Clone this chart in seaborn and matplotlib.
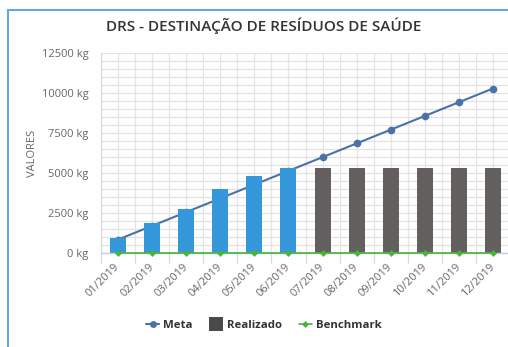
import numpy as np
import pandas as pd
import matplotlib
matplotlib.use("Agg")
import matplotlib.pyplot as plt
from matplotlib.lines import Line2D
from matplotlib.ticker import MultipleLocator, FixedLocator
import seaborn as sns

months = ["01/2019", "02/2019", "03/2019", "04/2019", "05/2019", "06/2019",
          "07/2019", "08/2019", "09/2019", "10/2019", "11/2019", "12/2019"]
meta = [858, 1717, 2575, 3433, 4292, 5150, 6008, 6867, 7725, 8583, 9442, 10300]
realizado = [980, 1910, 2750, 4000, 4830, 5340, 5350, 5350, 5350, 5350, 5350, 5350]
benchmark = [0] * 12
y_ticks = [0, 2500, 5000, 7500, 10000, 12500]

sns.set_theme(style="white")
plt.rcParams["font.family"] = ["Open Sans", "DejaVu Sans"]

BLUE = "#3498db"
GRAY = "#646060"
LINE = "#4a72a8"
GREEN = "#4cb33a"
TEXT = "#666666"

df = pd.DataFrame({"mes": months, "meta": meta, "realizado": realizado,
                   "benchmark": benchmark})
df["pos"] = np.arange(len(df))
df["grupo"] = ["atual" if i < 6 else "futuro" for i in range(len(df))]

fig = plt.figure(figsize=(5.08, 3.47), dpi=100)
ax = fig.add_axes([101 / 508, 1 - 253.3 / 347, 409 / 508, 200 / 347])

sns.lineplot(data=df, x="pos", y="meta", ax=ax, color=LINE, lw=1.5,
             marker="o", markersize=5.5, markeredgewidth=0, zorder=1)
sns.barplot(data=df, x="pos", y="realizado", hue="grupo",
            palette={"atual": BLUE, "futuro": GRAY}, ax=ax, width=0.47,
            legend=False, zorder=2, native_scale=True, dodge=False,
            linewidth=0, saturation=1)
sns.lineplot(data=df, x="pos", y="benchmark", ax=ax, color=GREEN, lw=1.2,
             marker="D", markersize=3.5, markeredgewidth=0, zorder=3,
             clip_on=False)

ax.set_xlim(-0.5, len(months) - 0.5)
ax.set_ylim(0, 12500)
ax.set_yticks(y_ticks)
ax.set_yticklabels([f"{v} kg" for v in y_ticks])
ax.yaxis.set_minor_locator(MultipleLocator(500))
ax.set_xticks(df["pos"])
ax.set_xticklabels(months, rotation=45, ha="right", va="center",
                   rotation_mode="anchor")
ax.xaxis.set_minor_locator(FixedLocator(np.arange(-0.5, len(months), 1.0)))

ax.grid(True, which="both", axis="both", color="#e3e3e3", lw=0.9, zorder=0)
ax.set_axisbelow(True)
ax.tick_params(axis="y", which="both", length=0, pad=9, labelsize=8,
               labelcolor=TEXT)
ax.tick_params(axis="x", which="major", length=0, pad=9, labelsize=8,
               labelcolor=TEXT)
ax.tick_params(axis="x", which="minor", length=7, width=0.9,
               color="#cfdbe8", bottom=True)

for side in ["top", "right"]:
    ax.spines[side].set_visible(False)
ax.spines["left"].set_color("#d9d9d9")
ax.spines["left"].set_linewidth(0.9)
ax.spines["bottom"].set_color("#bcd0e4")
ax.spines["bottom"].set_linewidth(1.0)

ax.set_xlabel("")
ax.set_ylabel("VALORES", color=TEXT, fontsize=8)
ax.yaxis.set_label_coords(-0.155, 0.5)

fig.text(0.52, 1 - 26 / 347, "DRS - DESTINAÇÃO DE RESÍDUOS DE SAÚDE",
         ha="center", va="center", fontsize=11, color="#333333",
         fontweight="semibold")

handles = [
    Line2D([], [], color=LINE, lw=1.5, marker="o", markersize=5,
           markeredgewidth=0),
    Line2D([], [], color="#4b494a", lw=0, marker="s", markersize=9.5,
           markeredgewidth=0),
    Line2D([], [], color=GREEN, lw=1.2, marker="D", markersize=3.5,
           markeredgewidth=0),
]
fig.legend(handles, ["Meta", "Realizado", "Benchmark"], loc="center",
           bbox_to_anchor=(0.52, 1 - 325 / 347), ncol=3, frameon=False,
           prop={"size": 8.2, "weight": "bold"}, labelcolor="#333333",
           handlelength=1.1, handletextpad=0.4, columnspacing=1.5)

# outer frame lines
fig.add_artist(Line2D([8 / 508, 8 / 508], [0, 1 - 10 / 347],
                      transform=fig.transFigure, color="#6aa6e0", lw=1.5))
fig.add_artist(Line2D([8 / 508, 1], [1 - 10 / 347, 1 - 10 / 347],
                      transform=fig.transFigure, color="#6aa6e0", lw=1.5))

fig.savefig("out.png", dpi=100)
